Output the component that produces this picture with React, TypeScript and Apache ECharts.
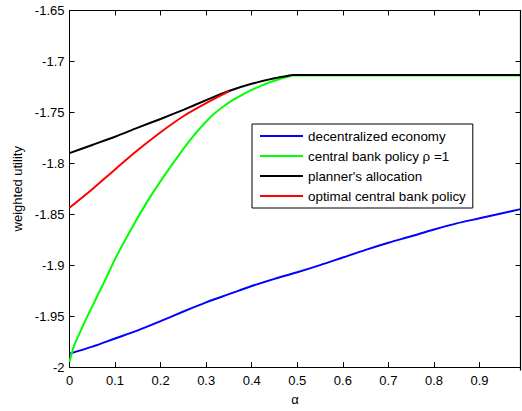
import React, { useEffect, useRef } from "react";
import * as echarts from "echarts";

const xTicks = [0, 0.1, 0.2, 0.3, 0.4, 0.5, 0.6, 0.7, 0.8, 0.9];
const yTicks = [-2, -1.95, -1.9, -1.85, -1.8, -1.75, -1.7, -1.65];

const seriesNames = [
  "decentralized economy",
  "central bank policy ρ =1",
  "planner's allocation",
  "optimal central bank policy",
];
const seriesColors = ["#0000ff", "#00ff00", "#000000", "#ff0000"];

const blueAlpha = [0, 0.05, 0.1, 0.15, 0.2, 0.25, 0.3, 0.35, 0.4, 0.45, 0.5, 0.55, 0.6, 0.65, 0.7, 0.75, 0.8, 0.85, 0.9, 0.95, 0.99];
const blueVals = [-1.987, -1.98, -1.972, -1.964, -1.955, -1.9455, -1.9365, -1.9285, -1.9205, -1.9135, -1.907, -1.9, -1.8925, -1.885, -1.878, -1.8716, -1.865, -1.859, -1.854, -1.849, -1.845];

const greenAlpha = [0, 0.01, 0.02, 0.03, 0.04, 0.05, 0.06, 0.07, 0.08, 0.09, 0.1, 0.12, 0.14, 0.16, 0.18, 0.2, 0.22, 0.24, 0.26, 0.28, 0.3, 0.32, 0.34, 0.36, 0.38, 0.4, 0.42, 0.44, 0.46, 0.48, 0.49, 0.6, 0.7, 0.8, 0.9, 0.99];
const greenVals = [-1.995, -1.979, -1.969, -1.959, -1.9495, -1.9405, -1.931, -1.922, -1.913, -1.9035, -1.894, -1.877, -1.861, -1.8455, -1.831, -1.8175, -1.8045, -1.792, -1.78, -1.769, -1.759, -1.7505, -1.7435, -1.7375, -1.7325, -1.728, -1.724, -1.7205, -1.7175, -1.715, -1.7138, -1.7138, -1.7138, -1.7138, -1.7138, -1.7138];

const blackAlpha = [0, 0.05, 0.1, 0.15, 0.2, 0.25, 0.3, 0.35, 0.4, 0.45, 0.48, 0.49, 0.6, 0.7, 0.8, 0.9, 0.99];
const blackVals = [-1.79, -1.782, -1.774, -1.765, -1.7565, -1.7475, -1.738, -1.729, -1.722, -1.7165, -1.714, -1.7134, -1.7134, -1.7134, -1.7134, -1.7134, -1.7134];

const redAlpha = [0, 0.05, 0.1, 0.15, 0.2, 0.25, 0.3, 0.35];
const redVals = [-1.8436, -1.8255, -1.806, -1.787, -1.7695, -1.7538, -1.741, -1.7295];

const alphas = [blueAlpha, greenAlpha, blackAlpha, redAlpha];
const values = [blueVals, greenVals, blackVals, redVals];

const FONT = "'Liberation Sans', Arial, sans-serif";

const G_LEFT = 69.5;
const G_RIGHT = 1.5;
const G_TOP = 10.5;
const G_BOTTOM = 40.5;
const W = 522;
const H = 411;

export default function App() {
  const ref = useRef<HTMLDivElement>(null);
  useEffect(() => {
    if (!ref.current) return;
    const chart = echarts.init(ref.current, null, { renderer: "svg" });
    const axisBase = {
      type: "value" as const,
      axisLine: { show: true, onZero: false, lineStyle: { color: "#000", width: 1 } },
      axisTick: { show: true, inside: true, length: 5, lineStyle: { color: "#000" } },
      splitLine: { show: false },
    };
    chart.setOption({
      animation: false,
      backgroundColor: "#fff",
      textStyle: { fontFamily: FONT },
      grid: {
        left: G_LEFT,
        right: G_RIGHT,
        top: G_TOP,
        bottom: G_BOTTOM,
        containLabel: false,
      },
      graphic: [
        {
          type: "line",
          silent: true,
          z: 100,
          shape: { x1: G_LEFT, y1: G_TOP, x2: W - G_RIGHT, y2: G_TOP },
          style: { stroke: "#000", lineWidth: 1.2 },
        },
        {
          type: "line",
          silent: true,
          z: 100,
          shape: { x1: W - G_RIGHT, y1: G_TOP, x2: W - G_RIGHT, y2: H - G_BOTTOM },
          style: { stroke: "#000", lineWidth: 1.2 },
        },
      ],
      legend: {
        orient: "vertical",
        left: 252,
        top: 124,
        padding: [5, 7, 5, 8],
        itemGap: 6,
        itemWidth: 43,
        itemHeight: 2,
        icon: "rect",
        borderColor: "#000",
        borderWidth: 1,
        backgroundColor: "#fff",
        textStyle: { fontFamily: FONT, fontSize: 13.4, color: "#000", lineHeight: 14 },
        data: seriesNames,
      },
      xAxis: [
        {
          ...axisBase,
          position: "bottom",
          min: 0,
          max: 0.99,
          interval: 0.1,
          name: "α",
          nameLocation: "middle",
          nameGap: 26,
          nameTextStyle: { fontFamily: FONT, fontSize: 13, color: "#000" },
          axisLabel: {
            margin: 7,
            fontFamily: FONT,
            fontSize: 13,
            color: "#000",
            showMaxLabel: false,
            formatter: (v: number) => (xTicks.some((t) => Math.abs(t - v) < 1e-6) ? String(+v.toFixed(2)) : ""),
          },
        },
        {
          ...axisBase,
          gridIndex: 0,
          position: "top",
          min: 0,
          max: 0.99,
          interval: 0.1,
          axisLabel: { show: false },
        },
      ],
      yAxis: [
        {
          ...axisBase,
          position: "left",
          min: -2,
          max: -1.65,
          interval: 0.05,
          name: "weighted utility",
          nameLocation: "middle",
          nameGap: 38,
          nameTextStyle: { fontFamily: FONT, fontSize: 13, color: "#000" },
          axisLabel: {
            margin: 5,
            fontFamily: FONT,
            fontSize: 13,
            color: "#000",
            formatter: (v: number) => (yTicks.some((t) => Math.abs(t - v) < 1e-6) ? String(+v.toFixed(2)) : ""),
          },
        },
        {
          ...axisBase,
          gridIndex: 0,
          position: "right",
          min: -2,
          max: -1.65,
          interval: 0.05,
          axisLabel: { show: false },
        },
      ],
      series: [
        ...seriesNames.map((name, i) => ({
          name,
          type: "line",
          xAxisIndex: 0,
          yAxisIndex: 0,
          showSymbol: false,
          symbol: "none",
          smooth: 0.3,
          color: seriesColors[i],
          lineStyle: { color: seriesColors[i], width: 2 },
          data: alphas[i].map((a, j) => [a, values[i][j]]),
        })),
        {
          name: "__frame",
          type: "line",
          xAxisIndex: 1,
          yAxisIndex: 1,
          data: [],
          silent: true,
        },
      ],
    });
    return () => chart.dispose();
  }, []);
  return <div ref={ref} style={{ position: "fixed", left: 0, top: 0, width: W, height: H }} />;
}
